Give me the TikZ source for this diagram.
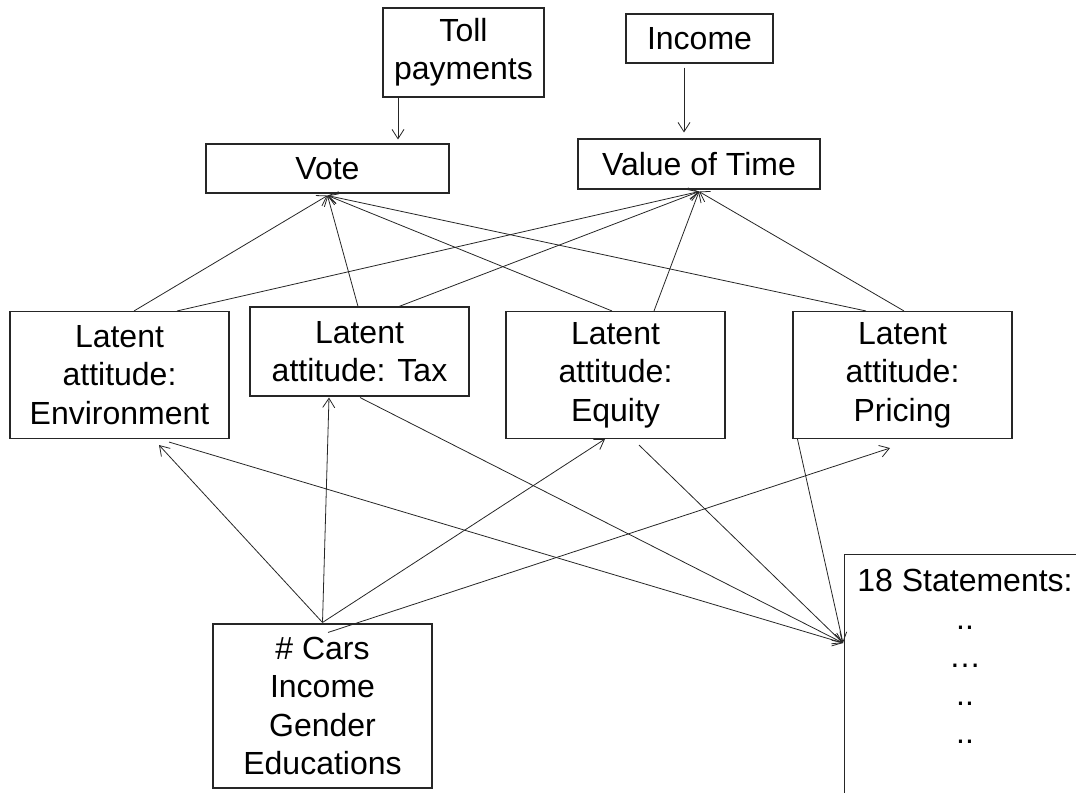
\documentclass[tikz,border=0pt]{standalone}
\usepackage{fontspec}
\setmainfont{Liberation Sans}
\usetikzlibrary{arrows.meta,calc}
\begin{document}
\begin{tikzpicture}[x=0.75pt,y=0.75pt,yscale=-1,
  box/.style={draw=black!85,line width=0.8pt,inner sep=0pt,align=center,font=\fontsize{24}{28.8}\selectfont},
  latent/.style={box,minimum width=164.25pt,minimum height=95.25pt},
  link/.style={draw=black!85,line width=0.6pt,-{Straight Barb[length=7pt,width=9pt]}}]
\useasboundingbox (0,0) rectangle (1076,793);
\clip (0,0) rectangle (1076,793);

% Text Node
\node (toll) [box,minimum width=120.75pt,minimum height=66.75pt] at (463.5,52.5) {Toll\\payments};
% Text Node
\node (income) [box,minimum width=110.25pt,minimum height=36.75pt] at (699.5,38.5) {Income};
% Text Node
\node (vote) [box,minimum width=182.25pt,minimum height=36.75pt] at (327.5,168.5) {Vote};
% Text Node
\node (vot) [box,minimum width=181.5pt,minimum height=37.5pt] at (699,164) {Value of Time};
% Text Node
\node (env) [latent] at (119.5,375) {Latent\\attitude:\\Environment};
% Text Node
\node (tax) [latent,minimum height=66.75pt] at (359.5,351.5) {Latent\\attitude: Tax};
% Text Node
\node (equity) [latent] at (615.5,375) {Latent\\attitude:\\Equity};
% Text Node
\node (pricing) [latent] at (902.5,375) {Latent\\attitude:\\Pricing};
% Text Node
\node (cars) [box,minimum width=164.25pt,minimum height=123pt] at (322.5,706) {\# Cars\\Income\\Gender\\Educations};
%Shape: Rectangle
\node (stmts) [box,minimum width=192pt,minimum height=199.5pt,anchor=north west] at (844,554) {};
% Text Node
\node (stmtxt) [align=center,inner sep=0pt,anchor=north,font=\fontsize{24}{28.5}\selectfont] at ($(stmts.north west)+(121,15)$) {18 Statements:\\..\\…\\..\\..};

\coordinate (vin) at ($(vote.south)+(0,2)$);
\coordinate (tin) at ($(vot.south)+(0,2)$);
\coordinate (cout) at ($(cars.north)+(0,-1)$);
\coordinate (sin) at ($(stmts.north west)+(-1,89)$);

%Straight Lines
\draw [link] ($(toll.south)+(-65.5,0)$) -- ($(vote.north)+(70.5,-4)$);
\draw [link] ($(income.south)+(-15.5,4)$) -- ($(vot.north)+(-15,-6)$);

%Straight Lines
\draw [link] ($(env.north)+(14.5,0)$) -- (vin);
\draw [link] ($(env.north)+(57.5,0)$) -- (tin);
\draw [link] ($(tax.north)+(-1.5,0)$) -- (vin);
\draw [link] ($(tax.north)+(39.5,0)$) -- (tin);
\draw [link] ($(equity.north)+(-3.5,0)$) -- (vin);
\draw [link] ($(equity.north)+(38.5,0)$) -- (tin);
\draw [link] ($(pricing.north)+(-36.5,0)$) -- (vin);
\draw [link] ($(pricing.north)+(1.5,0)$) -- (tin);

%Straight Lines
\draw [link] (cout) -- ($(env.south)+(39.5,6)$);
\draw [link] (cout) -- ($(tax.south)+(-30.5,1)$);
\draw [link] (cout) -- ($(equity.south)+(-10.5,0)$);
\draw [link] ($(cars.north)+(5.5,9)$) -- ($(pricing.south)+(-12.5,9)$);

%Straight Lines
\draw [link] ($(env.south)+(49.5,3)$) -- (sin);
\draw [link] ($(tax.south)+(0.5,1)$) -- (sin);
\draw [link] ($(equity.south)+(23.5,6)$) -- (sin);
\draw [link] ($(pricing.south west)+(5,0)$) -- (sin);

\end{tikzpicture}
\end{document}
